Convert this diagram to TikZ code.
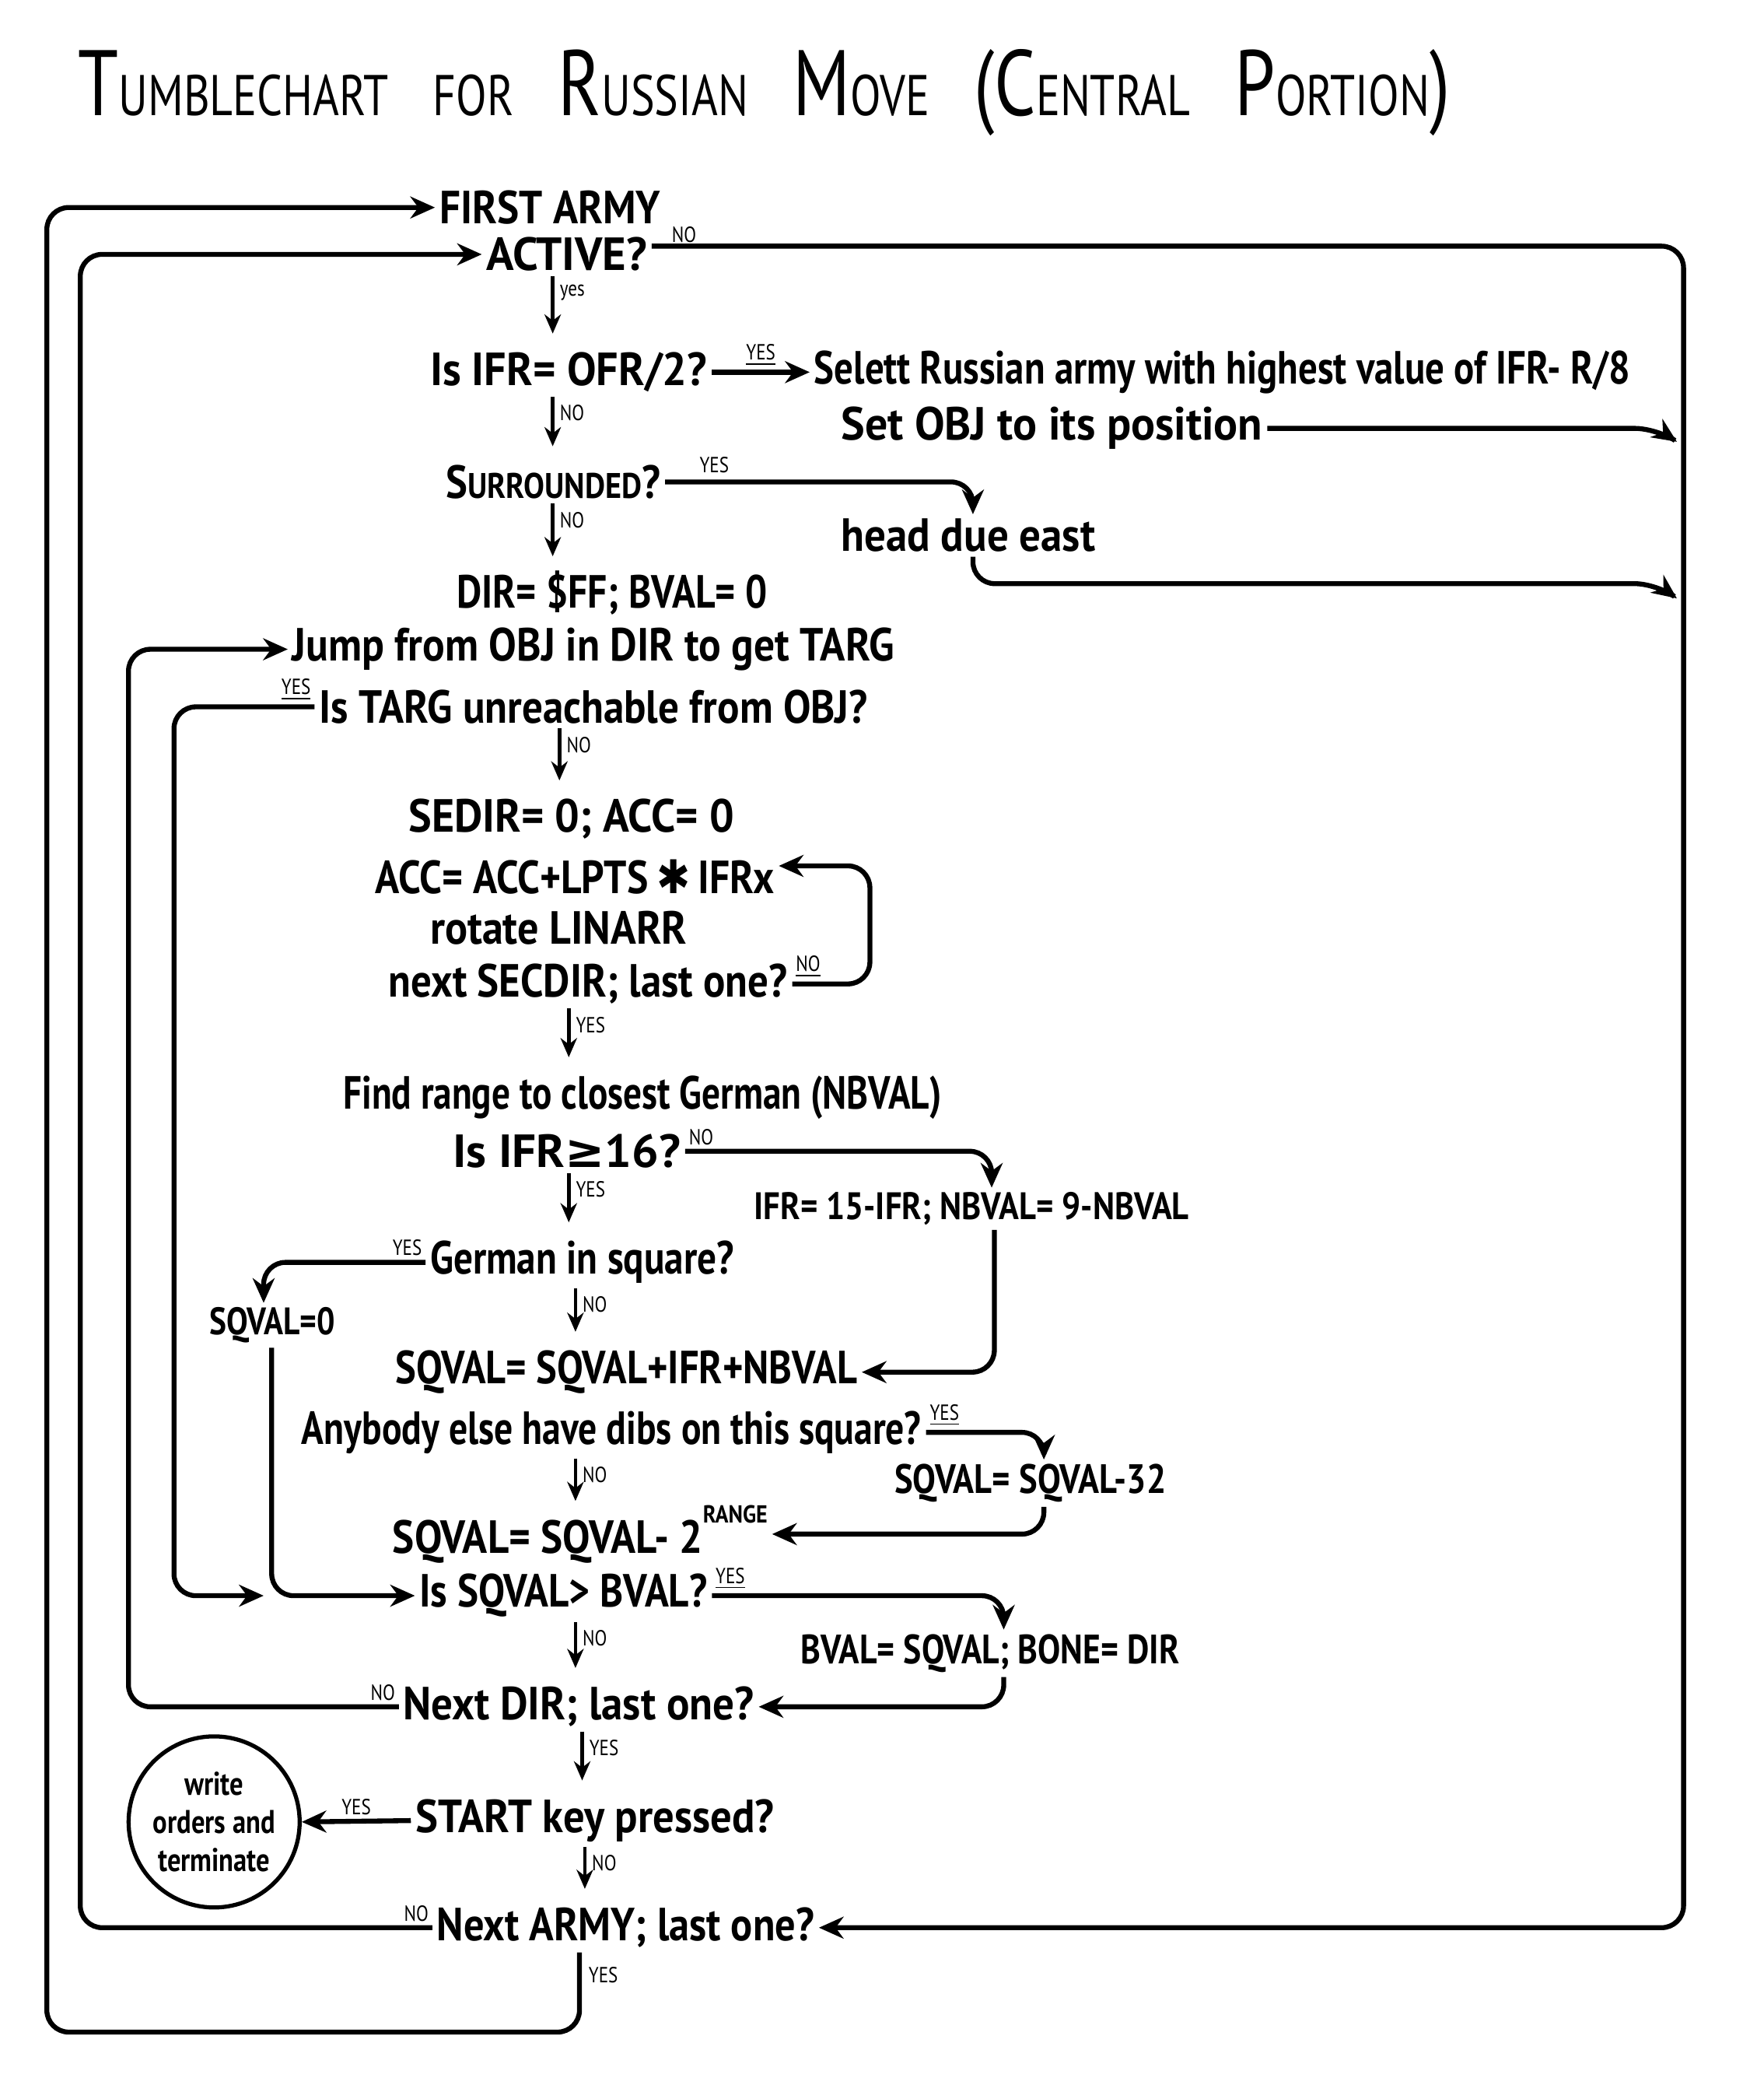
\documentclass[tikz,border=0pt]{standalone}
\usepackage{fontspec}
\usepackage{graphicx}
\setmainfont{PT Sans}[FakeStretch=0.82]
\newfontfamily\symfam{DejaVu Sans}[FakeStretch=0.82]
\usetikzlibrary{arrows.meta}
% one unit of the drawing grid
\newdimen\pxu \pxu=0.017208cm
% squeeze or stretch a text to a given width, keeping its height
\newcommand\fw[2]{\resizebox{#1\pxu}{\height}{#2}}
% small capitals for the heading
\newcommand\smcap[1]{{\fontsize{21}{24}\selectfont #1}}
\newcommand\smsurr[1]{{\fontsize{13}{15}\selectfont #1}}
% short downward arrow between two boxes, with its yes/no label
\newcommand\vstep[4]{\draw[vstep] (#3,0 |- #1.south) -- (#3,0 |- #2.base)
  node[lbl, pos=0, anchor=north west, xshift=1.5pt, yshift=-2pt] {#4};}
\begin{document}
\begin{tikzpicture}[x=0.017208cm, y=-0.017208cm,
  every node/.style={inner sep=1.5pt, font=\bfseries\fontsize{17}{20}\selectfont},
  txt/.style={anchor=west},
  lbl/.style={font=\fontsize{8}{9}\selectfont, inner sep=0.5pt},
  flow/.style={line width=1.8pt, rounded corners=8pt,
    -{Stealth[length=9pt, width=8pt]}},
  vstep/.style={line width=1.3pt, shorten >=19pt,
    -{Stealth[length=7pt, width=6pt]}}]

\fill[white] (0,0) rectangle (1318,1568);
\path[use as bounding box] (0,0) rectangle (1318,1568);

% heading
\node[txt, font=\fontsize{34}{36}\selectfont] (title) at (55,69) {\fw{1025}{%
  T\smcap{UMBLECHART}\enspace\smcap{FOR}\enspace R\smcap{USSIAN}\enspace
  M\smcap{OVE}\enspace (C\smcap{ENTRAL}\enspace P\smcap{ORTION})}};

% boxes of the flow
\node[txt] (first)    at (325,155)  {\fw{165}{FIRST ARMY}};
\node[txt] (active)   at (360,190)  {\fw{120}{ACTIVE?}};
\node[txt] (isifr)    at (318,278)  {\fw{207}{Is IFR= OFR/2?}};
\node[txt] (select)   at (605,278)  {\fw{610}{Selett Russian army with highest value of IFR- R/8}};
\node[txt] (setobj)   at (625,320)  {\fw{315}{Set OBJ to its position}};
\node[txt] (surr)     at (330,360)  {\fw{160}{S\smsurr{URROUNDED}?}};
\node[txt] (head)     at (625,400)  {\fw{190}{head due east}};
\node[txt] (dir)      at (338,443)  {\fw{232}{DIR= \$FF; BVAL= 0}};
\node[txt] (jump)     at (215,485)  {\fw{450}{Jump from OBJ in DIR to get TARG}};
\node[txt] (targ)     at (235,528)  {\fw{410}{Is TARG unreachable from OBJ?}};
\node[txt] (sedir)    at (302,612)  {\fw{243}{SEDIR= 0; ACC= 0}};
\node[txt] (acc)      at (277,655)  {\fw{298}{ACC= ACC+LPTS\,{\symfam\char"2731}\,IFRx}};
\node[txt] (rot)      at (318,693)  {\fw{192}{rotate LINARR}};
\node[txt] (nextsec)  at (287,735)  {\fw{298}{next SECDIR; last one?}};
\node[txt] (find)     at (253,820)  {\fw{447}{Find range to closest German (NBVAL)}};
\node[txt] (ifr16)    at (335,860)  {\fw{170}{Is IFR{\symfam ≥}16?}};
\node[txt, font=\bfseries\fontsize{14}{16}\selectfont]
           (ifrset)   at (560,903)  {\fw{325}{IFR= 15-IFR; NBVAL= 9-NBVAL}};
\node[txt] (german)   at (318,943)  {\fw{227}{German in square?}};
\node[txt, font=\bfseries\fontsize{14}{16}\selectfont]
           (sq0)      at (153,990)  {\fw{94}{SQVAL=0}};
\node[txt] (sqsum)    at (292,1025) {\fw{345}{SQVAL= SQVAL+IFR+NBVAL}};
\node[txt] (dibs)     at (222,1070) {\fw{463}{Anybody else have dibs on this square?}};
\node[txt, font=\bfseries\fontsize{15}{17}\selectfont]
           (sq32)     at (665,1108) {\fw{203}{SQVAL= SQVAL-32}};
\node[txt] (sqrange)  at (290,1146) {\fw{280}{SQVAL= SQVAL- 2\raisebox{11pt}{\fontsize{9}{9}\selectfont RANGE}}};
\node[txt] (issq)     at (310,1192) {\fw{215}{Is SQVAL> BVAL?}};
\node[txt, font=\bfseries\fontsize{15}{17}\selectfont]
           (bval)     at (595,1235) {\fw{283}{BVAL= SQVAL; BONE= DIR}};
\node[txt] (nextdir)  at (298,1275) {\fw{262}{Next DIR; last one?}};
\node[draw, circle, line width=1.5pt, minimum size=2.2cm, inner sep=0pt,
      align=center, font=\bfseries\fontsize{12}{14}\selectfont]
           (term)     at (160,1361) {write\\orders and\\terminate};
\node[txt] (start)    at (307,1360) {\fw{268}{START key pressed?}};
\node[txt] (nextarmy) at (323,1440) {\fw{282}{Next ARMY; last one?}};

% free ends and attachment points of connectors
\coordinate (r1) at (1253,330);
\coordinate (r2) at (1253,447);
\coordinate (merge) at (197,1192);
\coordinate (activeout) at ([yshift=3pt]active.east);
\coordinate (accin) at ([yshift=4pt]acc.east);

% outer loop: next army back to the first one
\draw[flow] (433,0 |- nextarmy.south)
  -- node[lbl, pos=0, anchor=north west, xshift=2pt, yshift=-4pt] {YES} (433,1518)
  -- (35,1518) -- (35,0 |- first.west) -- (first.west);
% loop: next army, not the last
\draw[flow] (nextarmy.west)
  -- node[lbl, pos=0, anchor=south east, yshift=1pt] {NO} (60,0 |- nextarmy.west)
  -- (60,0 |- active.west) -- (active.west);
% not active: straight on to the next army
\draw[flow] (activeout)
  -- node[lbl, pos=0, anchor=south west, xshift=6pt, yshift=0pt] {NO} (1258,0 |- activeout)
  -- (1258,0 |- nextarmy.east) -- (nextarmy.east);
\draw[flow] (isifr.east) -- node[lbl, above, yshift=1pt] {\underline{YES}} (select.west);
\draw[flow] (setobj.east) -- (1238,0 |- setobj.east) -- (r1);
\draw[flow] (surr.east)
  -- node[lbl, pos=0.1, anchor=south west, yshift=2pt] {YES} (727,0 |- surr.east)
  -- (727,0 |- head.north);
\draw[flow] (727,0 |- head.south) -- (727,436) -- (1238,436) -- (r2);

\vstep{active}{isifr}{413}{yes}
\vstep{isifr}{surr}{413}{NO}
\vstep{surr}{dir}{413}{NO}

% direction loop
\draw[flow] (nextdir.west)
  -- node[lbl, pos=0, anchor=south east, yshift=1pt] {NO} (96,0 |- nextdir.west)
  -- (96,0 |- jump.west) -- (jump.west);
\draw[flow] (targ.west)
  -- node[lbl, pos=0, anchor=south east, yshift=1pt] {\underline{YES}} (130,0 |- targ.west)
  -- (130,0 |- merge) -- (merge);
\vstep{targ}{sedir}{418}{NO}

% sector loop
\draw[flow] (nextsec.east)
  -- node[lbl, pos=0, anchor=south west, yshift=1pt] {\underline{NO}} (650,0 |- nextsec.east)
  -- (650,0 |- accin) -- (accin);
\vstep{nextsec}{find}{425}{YES}

\draw[flow] (ifr16.east)
  -- node[lbl, pos=0, anchor=south west, yshift=1pt] {NO} (741,0 |- ifr16.east)
  -- (741,0 |- ifrset.north);
\draw[flow] (743,0 |- ifrset.south) -- (743,0 |- sqsum.east) -- (sqsum.east);
\vstep{ifr16}{german}{425}{YES}

\draw[flow] (german.west)
  -- node[lbl, pos=0, anchor=south east, yshift=1pt] {YES} (197,0 |- german.west)
  -- (197,0 |- sq0.north);
\draw[flow] (203,0 |- sq0.south) -- (203,0 |- issq.west) -- (issq.west);
\vstep{german}{sqsum}{430}{NO}

\draw[flow] (dibs.east)
  -- node[lbl, pos=0, anchor=south west, yshift=1pt] {\underline{YES}} (780,0 |- dibs.east)
  -- (780,0 |- sq32.north);
\draw[flow] (780,0 |- sq32.south) -- (780,0 |- sqrange.east) -- (sqrange.east);
\vstep{dibs}{sqrange}{430}{NO}

\draw[flow] (issq.east)
  -- node[lbl, pos=0, anchor=south west, yshift=1pt] {\underline{YES}} (750,0 |- issq.east)
  -- (750,0 |- bval.north);
\draw[flow] (750,0 |- bval.south) -- (750,0 |- nextdir.east) -- (nextdir.east);
\vstep{issq}{nextdir}{430}{NO}

\vstep{nextdir}{start}{435}{YES}
\draw[flow] (start.west) -- node[lbl, above, yshift=1pt] {YES} (term.east);
\vstep{start}{nextarmy}{437}{NO}

\end{tikzpicture}
\end{document}
